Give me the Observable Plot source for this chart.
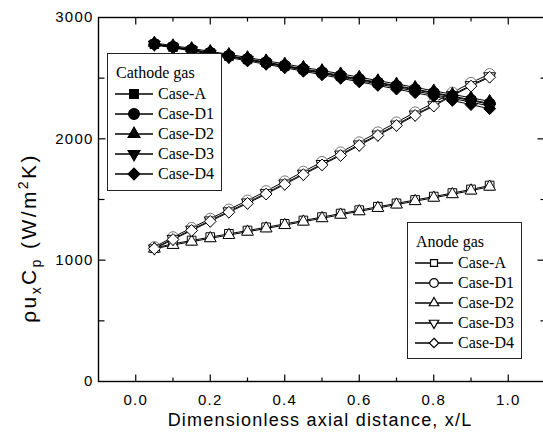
<!DOCTYPE html>
<html>
<head>
<meta charset="utf-8">
<script src="https://cdn.jsdelivr.net/npm/d3@7"></script>
<script src="https://cdn.jsdelivr.net/npm/@observablehq/plot@0.6"></script>
<style>
  body { margin: 0; background: #fff; }
  #wrap { position: relative; width: 543px; height: 434px; overflow: hidden; background: #fff; }
  .legend { position: absolute; border: 1px solid #222; background: #fff; box-sizing: border-box;
            font-family: "Liberation Serif", "Times New Roman", serif; font-size: 16px; color: #000; }
  .legend .row { position: absolute; height: 20px; line-height: 20px; white-space: nowrap; }
  .legend svg { position: absolute; overflow: visible; }
</style>
</head>
<body>
<div id="wrap"></div>
<script>
// ---------- data ----------
const xPos = [0.05, 0.10, 0.15, 0.20, 0.25, 0.30, 0.35, 0.40, 0.45, 0.50,
              0.55, 0.60, 0.65, 0.70, 0.75, 0.80, 0.85, 0.90, 0.95];

const caseNames = ["Case-A", "Case-D1", "Case-D2", "Case-D3", "Case-D4"];

// Cathode gas (filled markers)
const cathodeA  = [2780, 2757, 2733, 2708, 2682, 2655, 2628, 2600, 2572, 2545, 2517, 2489, 2461, 2432, 2404, 2375, 2345, 2315, 2285];
const cathodeD1 = [2782, 2760, 2736, 2711, 2686, 2659, 2632, 2605, 2577, 2550, 2522, 2494, 2466, 2438, 2410, 2381, 2352, 2322, 2292];
const cathodeD2 = [2790, 2768, 2745, 2721, 2696, 2670, 2644, 2617, 2590, 2563, 2536, 2508, 2480, 2452, 2424, 2396, 2367, 2338, 2309];
const cathodeD3 = [2778, 2754, 2730, 2704, 2678, 2651, 2623, 2595, 2567, 2539, 2510, 2481, 2452, 2423, 2394, 2364, 2333, 2302, 2270];
const cathodeD4 = [2775, 2750, 2725, 2698, 2670, 2642, 2614, 2586, 2557, 2528, 2499, 2470, 2440, 2410, 2380, 2350, 2316, 2282, 2248];

// Anode gas (open markers)
const anodeA  = [1100, 1135, 1162, 1190, 1217, 1244, 1271, 1299, 1327, 1355, 1384, 1412, 1440, 1468, 1496, 1524, 1553, 1583, 1615];
const anodeD1 = [1108, 1190, 1266, 1342, 1418, 1492, 1570, 1650, 1730, 1810, 1889, 1972, 2054, 2136, 2219, 2297, 2382, 2462, 2535];
const anodeD2 = [1094, 1125, 1152, 1180, 1207, 1234, 1261, 1289, 1317, 1345, 1374, 1402, 1430, 1458, 1486, 1514, 1543, 1573, 1605];
const anodeD3 = [1098, 1176, 1252, 1328, 1403, 1476, 1553, 1633, 1713, 1793, 1871, 1954, 2036, 2118, 2201, 2278, 2363, 2443, 2516];
const anodeD4 = [1095, 1170, 1245, 1320, 1395, 1468, 1545, 1625, 1705, 1785, 1863, 1946, 2028, 2110, 2193, 2270, 2355, 2435, 2508];

const yTickLabels = [0, 1000, 2000, 3000];
const xTickLabels = [0.0, 0.2, 0.4, 0.6, 0.8, 1.0];
const yMinorTicks = [500, 1500, 2500];
const yMajorTicks = [1000, 2000];
const xMajorTicks = [0.0, 0.2, 0.4, 0.6, 0.8, 1.0];
const xMinorTicks = [0.1, 0.3, 0.5, 0.7, 0.9];

// ---------- symbols ----------
const triangleDown = {
  draw(ctx, size) {
    const y = -Math.sqrt(size / (Math.sqrt(3) * 3));
    ctx.moveTo(0, -y * 2);
    ctx.lineTo(-Math.sqrt(3) * y, y);
    ctx.lineTo(Math.sqrt(3) * y, y);
    ctx.closePath();
  }
};
const seg = (dx, dy) => ({ draw(ctx) { ctx.moveTo(0, 0); ctx.lineTo(dx, dy); } });

const symbolStyles = [
  { symbol: "square",   d3sym: d3.symbolSquare,   r: 4.9 },
  { symbol: "circle",   d3sym: d3.symbolCircle,   r: 5.4 },
  { symbol: "triangle", d3sym: d3.symbolTriangle, r: 4.4 },
  { symbol: triangleDown, d3sym: triangleDown,    r: 4.4 },
  { symbol: "diamond2", d3sym: d3.symbolDiamond2, r: 5.3 }
];

// ---------- table ----------
const cathodeSeries = [cathodeA, cathodeD1, cathodeD2, cathodeD3, cathodeD4];
const anodeSeries = [anodeA, anodeD1, anodeD2, anodeD3, anodeD4];
const rows = [];
cathodeSeries.forEach((vals, k) => vals.forEach((v, i) => rows.push({ gas: "cathode", k, name: caseNames[k], x: xPos[i], y: v })));
anodeSeries.forEach((vals, k) => vals.forEach((v, i) => rows.push({ gas: "anode", k, name: caseNames[k], x: xPos[i], y: v })));

const marks = [];
for (const gas of ["anode", "cathode"]) {
  for (let k = 0; k < 5; k++) {
    const data = rows.filter(d => d.gas === gas && d.k === k);
    marks.push(Plot.line(data, { x: "x", y: "y", stroke: "#000", strokeWidth: 1 }));
  }
  for (let k = 0; k < 5; k++) {
    const data = rows.filter(d => d.gas === gas && d.k === k);
    const st = symbolStyles[k];
    marks.push(Plot.dot(data, {
      x: "x", y: "y", symbol: st.symbol, r: st.r,
      fill: gas === "cathode" ? "#000" : "#fff",
      stroke: gas === "anode" && k === 1 ? "#777" : "#000",
      strokeWidth: 1
    }));
  }
}

// inward ticks
const tickStyle = { stroke: "#000", strokeWidth: 1.2, fill: "none", r: 3 };
marks.push(
  Plot.dot(yMajorTicks, { y: d => d, frameAnchor: "left", symbol: seg(7, 0), ...tickStyle }),
  Plot.dot(yMinorTicks, { y: d => d, frameAnchor: "left", symbol: seg(6, 0), ...tickStyle }),
  Plot.dot(yMajorTicks, { y: d => d, frameAnchor: "right", symbol: seg(-8, 0), ...tickStyle }),
  Plot.dot(yMinorTicks, { y: d => d, frameAnchor: "right", symbol: seg(-5, 0), ...tickStyle }),
  Plot.dot(xMajorTicks, { x: d => d, frameAnchor: "bottom", symbol: seg(0, -7), ...tickStyle }),
  Plot.dot(xMinorTicks, { x: d => d, frameAnchor: "bottom", symbol: seg(0, -4), ...tickStyle }),
  Plot.dot(xMajorTicks, { x: d => d, frameAnchor: "top", symbol: seg(0, 7), ...tickStyle }),
  Plot.dot(xMinorTicks, { x: d => d, frameAnchor: "top", symbol: seg(0, 4), ...tickStyle })
);

marks.push(
  Plot.frame({ stroke: "#000", strokeWidth: 1.4 }),
  Plot.axisY(yTickLabels, { tickSize: 0, tickPadding: 5, tickFormat: d => String(d), label: null, fontSize: 15 }),
  Plot.axisX(xTickLabels, { tickSize: 0, tickPadding: 13, tickFormat: d => d.toFixed(1), label: null, fontSize: 15 }),
  Plot.text(["Dimensionless axial distance, x/L"], { text: d => d, frameAnchor: "bottom", dy: 39, dx: -2, fontSize: 18, lineAnchor: "middle" })
);

const chart = Plot.plot({
  width: 543,
  height: 434,
  marginLeft: 98,
  marginRight: -2,
  marginTop: 17,
  marginBottom: 53,
  x: { domain: [-0.1, 1.1] },
  y: { domain: [0, 3000] },
  style: { fontFamily: "Arial, 'Liberation Sans', sans-serif", fontSize: "15px", letterSpacing: "1.2px", color: "#000", background: "#fff", overflow: "visible" },
  marks
});

const wrap = document.getElementById("wrap");
wrap.appendChild(chart);

// y-axis title with sub/superscripts
const svg = d3.select(chart);
const yt = svg.append("text")
  .attr("transform", "translate(36,238) rotate(-90)")
  .attr("text-anchor", "middle")
  .attr("font-size", 21)
  .attr("letter-spacing", "2.4px")
  .attr("fill", "#000");
yt.append("tspan").text("ρu");
yt.append("tspan").attr("dy", 5).attr("font-size", 14).text("x");
yt.append("tspan").attr("dy", -5).text("C");
yt.append("tspan").attr("dy", 5).attr("font-size", 14).text("p");
yt.append("tspan").attr("dy", -5).text(" (W/m");
yt.append("tspan").attr("dy", -8).attr("font-size", 14).text("2");
yt.append("tspan").attr("dy", 8).text("K)");

// ---------- legends ----------
function makeLegend(opt) {
  const box = document.createElement("div");
  box.className = "legend";
  Object.assign(box.style, { left: opt.left + "px", top: opt.top + "px", width: opt.width + "px", height: opt.height + "px" });
  const title = document.createElement("div");
  title.className = "row";
  title.style.left = "8px";
  title.style.top = "9px";
  title.textContent = opt.title;
  box.appendChild(title);
  caseNames.forEach((name, k) => {
    const top = 29.5 + k * 20.2;
    const s = d3.create("svg").attr("width", 40).attr("height", 20)
      .style("left", "7px").style("top", top + "px");
    s.append("line").attr("x1", 0).attr("x2", 38).attr("y1", 10).attr("y2", 10)
      .attr("stroke", "#000").attr("stroke-width", 1.6);
    const st = symbolStyles[k];
    const r = st.r * opt.scale;
    s.append("path")
      .attr("transform", "translate(19,10)")
      .attr("d", d3.symbol(st.d3sym, Math.PI * r * r)())
      .attr("fill", opt.filled ? "#000" : "#fff")
      .attr("stroke", "#000").attr("stroke-width", 1.2);
    box.appendChild(s.node());
    const t = document.createElement("div");
    t.className = "row";
    t.style.left = "50px";
    t.style.top = top + "px";
    t.textContent = name;
    box.appendChild(t);
  });
  wrap.appendChild(box);
}
makeLegend({ left: 107, top: 53, width: 115, height: 138, title: "Cathode gas", filled: true, scale: 1.0 });
makeLegend({ left: 407, top: 222, width: 115, height: 137, title: "Anode gas", filled: false, scale: 0.8 });
</script>
</body>
</html>
